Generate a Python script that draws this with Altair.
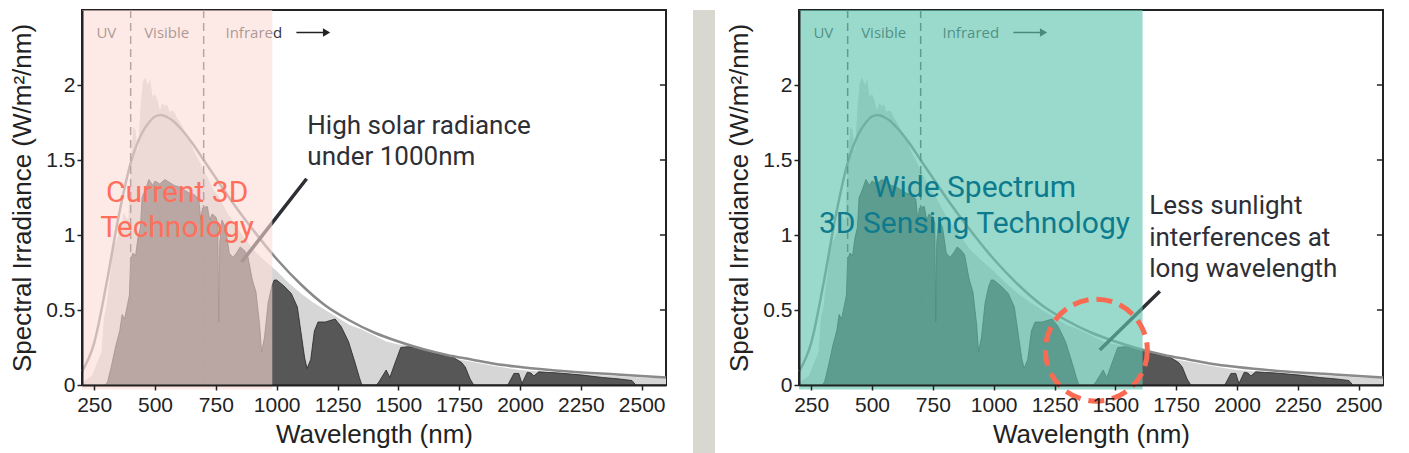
import altair as alt
import pandas as pd

# ---------------- data ----------------
# Blackbody (5250 C) curve
bb_nm = [200, 250, 300, 350, 400, 450, 475, 500, 525, 550, 575, 600, 650, 700, 750, 800, 900, 1000,
         1100, 1200, 1300, 1400, 1500, 1600, 1700, 1800, 1900, 2000, 2200, 2400, 2600]
bb_val = [0.09, 0.28, 0.67, 1.12, 1.48, 1.69, 1.75, 1.79, 1.80, 1.785, 1.76, 1.72, 1.62, 1.50, 1.38, 1.26, 1.04, 0.84,
          0.67, 0.53, 0.43, 0.35, 0.29, 0.24, 0.20, 0.17, 0.14, 0.12, 0.09, 0.07, 0.05]

# Sunlight at top of the atmosphere (light grey)
toa_nm = [200, 220, 240, 260, 280, 290, 300, 310, 320, 330, 340, 350, 360, 370, 380, 390,
          400, 410, 420, 430, 440, 450, 460, 470, 480, 490, 500, 510, 520, 530, 540, 550,
          560, 570, 580, 590, 600, 620, 640, 660, 680, 700, 720, 740, 760, 780, 800, 850,
          900, 950, 1000, 1050, 1100, 1150, 1200, 1250, 1300, 1350, 1400, 1450, 1500, 1550,
          1600, 1650, 1700, 1750, 1800, 1900, 2000, 2100, 2200, 2300, 2400, 2500, 2600]
toa_val = [0.01, 0.04, 0.06, 0.14, 0.22, 0.45, 0.52, 0.66, 0.78, 0.98, 0.95, 1.00, 1.02, 1.15, 1.12, 1.10,
           1.45, 1.72, 1.70, 1.55, 1.85, 2.02, 2.05, 2.00, 2.04, 1.92, 1.94, 1.90, 1.83, 1.88, 1.86, 1.87,
           1.82, 1.83, 1.82, 1.78, 1.76, 1.70, 1.65, 1.56, 1.50, 1.43, 1.37, 1.30, 1.26, 1.20, 1.14, 1.02,
           0.91, 0.83, 0.76, 0.68, 0.61, 0.55, 0.50, 0.45, 0.40, 0.37, 0.33, 0.29, 0.27, 0.262,
           0.23, 0.21, 0.19, 0.17, 0.155, 0.125, 0.10, 0.088, 0.078, 0.068, 0.06, 0.05, 0.045]

# Radiation at sea level (dark grey)
sea_nm = [200, 295, 305, 320, 340, 355, 365, 375, 385, 395, 400, 410, 420, 430, 440, 447,
          460, 475, 490, 500, 520, 540, 560, 580, 600, 620, 640, 660, 680, 688, 695, 715,
          725, 735, 750, 758, 762, 766, 775, 790, 805, 820, 835, 850, 865, 880, 900, 915,
          930, 938, 950, 965, 980, 990, 1000, 1030, 1060, 1085, 1100, 1115, 1125, 1140, 1155,
          1170, 1200, 1240, 1265, 1295, 1320, 1340, 1350, 1410, 1420, 1450, 1465, 1485, 1510,
          1540, 1580, 1650, 1720, 1760, 1775, 1795, 1810, 1950, 1975, 1995, 2008, 2030, 2045,
          2057, 2077, 2160, 2256, 2340, 2410, 2460, 2476, 2600]
sea_val = [0, 0, 0.02, 0.12, 0.27, 0.36, 0.47, 0.44, 0.52, 0.60, 0.84, 0.88, 0.86, 0.98, 1.05, 1.25,
           1.30, 1.37, 1.33, 1.36, 1.34, 1.37, 1.35, 1.33, 1.32, 1.30, 1.28, 1.27, 1.24, 1.10, 1.18, 1.19,
           1.10, 1.14, 1.12, 1.08, 0.42, 0.95, 1.10, 1.05, 0.88, 0.85, 0.88, 0.92, 0.90, 0.87, 0.70, 0.62,
           0.40, 0.22, 0.32, 0.55, 0.66, 0.70, 0.70, 0.66, 0.61, 0.52, 0.35, 0.18, 0.11, 0.17, 0.36,
           0.42, 0.42, 0.44, 0.39, 0.29, 0.16, 0.05, 0, 0, 0.02, 0.10, 0.05, 0.14, 0.25,
           0.255, 0.25, 0.21, 0.19, 0.15, 0.12, 0.04, 0, 0, 0.077, 0.077, 0.01, 0.085, 0.08,
           0.06, 0.088, 0.08, 0.066, 0.05, 0.04, 0.03, 0, 0]

x_ticks = [250, 500, 750, 1000, 1250, 1500, 1750, 2000, 2250, 2500]
y_ticks = [0, 0.5, 1, 1.5, 2]
band_edges = [400, 700]
band_labels = ["UV", "Visible", "Infrared"]
band_label_nm = [300, 548, 906]
band_label_val = 2.35
arrow_nm = [1081, 1205]

# left panel annotations
left_overlay_end = 982
left_title = ["Current 3D", "Technology"]
left_title_nm = [591, 591]
left_title_val = [1.22, 0.987]
left_note = ["High solar radiance", "under 1000nm"]
left_note_nm = [1126, 1126]
left_note_val = [1.674, 1.466]
left_leader_nm = [1123, 856]
left_leader_val = [1.375, 0.82]

# right panel annotations
right_overlay_end = 1612
right_title = ["Wide Spectrum", "3D Sensing Technology"]
right_title_nm = [921, 921]
right_title_val = [1.253, 1.015]
right_note = ["Less sunlight", "interferences at", "long wavelength"]
right_note_nm = [1639, 1639, 1639]
right_note_val = [1.142, 0.93, 0.72]
right_leader_nm = [1683, 1436]
right_leader_val = [0.625, 0.233]
circle_nm = [1422]
circle_val = [0.232]

# ---------------- chart ----------------
W, H = 584, 375
xscale = alt.Scale(domain=[200, 2600], nice=False, zero=False)
yscale = alt.Scale(domain=[0, 2.5], nice=False)
xaxis = alt.Axis(values=x_ticks, format="d", title="Wavelength (nm)", labelFontSize=21,
                 titleFontSize=26, tickSize=5, labelPadding=4, titlePadding=6, zindex=1,
                 grid=False, labelOverlap=False, labelFlush=False, titleFontWeight="normal")
yaxis = alt.Axis(values=y_ticks, format="~g", title="Spectral Irradiance (W/m²/nm)",
                 labelFontSize=21, titleFontSize=26, tickSize=5, labelPadding=2,
                 titlePadding=10, zindex=1, grid=False, titleFontWeight="normal")


def X(f="nm"):
    return alt.X(f, type="quantitative", scale=xscale, axis=xaxis)


def Y(f="val"):
    return alt.Y(f, type="quantitative", scale=yscale, axis=yaxis)


def panel(ov_end, ov_color, ov_opacity, title, t_nm, t_val, t_color,
          note, n_nm, n_val, lead_nm, lead_val, circle=False):
    toa = pd.DataFrame({"nm": toa_nm, "val": toa_val})
    sea = pd.DataFrame({"nm": sea_nm, "val": sea_val})
    bb = pd.DataFrame({"nm": bb_nm, "val": bb_val})
    layers = [
        alt.Chart(toa).mark_area(color="#d6d6d6").encode(x=X(), y=Y()),
        alt.Chart(sea).mark_area(color="#575757", stroke="#262626", strokeWidth=0.8).encode(x=X(), y=Y()),
        alt.Chart(bb).mark_line(color="#8a8a8a", strokeWidth=2.5, interpolate="monotone").encode(x=X(), y=Y()),
        alt.Chart(pd.DataFrame({"nm": band_edges})).mark_rule(
            color="#555", strokeWidth=1.5, strokeDash=[8, 5]).encode(x=X()),
        alt.Chart(pd.DataFrame({"nm": band_label_nm, "val": [band_label_val] * 3, "t": band_labels})).mark_text(
            font="Open Sans", fontSize=15, color="#333", align="center", baseline="middle").encode(
            x=X(), y=Y(), text="t:N"),
        alt.Chart(pd.DataFrame({"nm": [arrow_nm[0]], "nm2": [arrow_nm[1]], "val": [band_label_val]})).mark_rule(
            color="#222", strokeWidth=1.5).encode(x=X(), x2="nm2", y=Y()),
        alt.Chart(pd.DataFrame({"nm": [arrow_nm[1]], "val": [band_label_val]})).mark_point(
            shape="triangle-right", filled=True, color="#222", size=70, opacity=1).encode(x=X(), y=Y()),
        alt.Chart(pd.DataFrame({"nm": lead_nm, "val": lead_val})).mark_line(
            color="#2e2e35", strokeWidth=3.5).encode(x=X(), y=Y()),
        alt.Chart(pd.DataFrame({"nm": [200], "nm2": [ov_end], "val": [-0.03], "val2": [2.5]})).mark_rect(
            color=ov_color, opacity=ov_opacity).encode(x=X(), x2="nm2", y=Y(), y2="val2"),
        alt.Chart(pd.DataFrame({"nm": t_nm, "val": t_val, "t": title})).mark_text(
            font="Roboto", fontSize=30, color=t_color, align="center", baseline="alphabetic").encode(
            x=X(), y=Y(), text="t:N"),
        alt.Chart(pd.DataFrame({"nm": n_nm, "val": n_val, "t": note})).mark_text(
            font="Roboto", fontSize=26, color="#2e2e35", align="left", baseline="alphabetic").encode(
            x=X(), y=Y(), text="t:N"),
        alt.Chart(pd.DataFrame({"nm": [2575] * 4, "nm2": [2600] * 4, "val": y_ticks[1:]})).mark_rule(
            color="#222", strokeWidth=1.5).encode(x=X(), x2="nm2", y=Y()),
    ]
    if circle:
        layers.append(
            alt.Chart(pd.DataFrame({"nm": circle_nm, "val": circle_val})).mark_point(
                shape="circle", size=10400, filled=False, stroke="#f96a52", strokeWidth=5,
                strokeDash=[16, 8], opacity=1).encode(x=X(), y=Y()))
    return alt.layer(*layers).properties(width=W, height=H)


left = panel(left_overlay_end, "#fcdcd6", 0.6, left_title, left_title_nm, left_title_val, "#ff6f5b",
             left_note, left_note_nm, left_note_val, left_leader_nm, left_leader_val)
right = panel(right_overlay_end, "#61c5b1", 0.64, right_title, right_title_nm, right_title_val, "#0d7b8e",
              right_note, right_note_nm, right_note_val, right_leader_nm, right_leader_val, circle=True)

spacer = alt.Chart(pd.DataFrame({"a": [0]})).mark_rect(color="#d8d8d1").encode(
    x=alt.value(20), x2=alt.value(42), y=alt.value(0), y2=alt.value(445)
).properties(width=51, height=445, view=alt.ViewBackground(stroke="transparent"))

chart = alt.hconcat(left, spacer, right, spacing=0).properties(
    padding={"left": 0, "top": 0, "right": 0, "bottom": 0}
).configure_view(stroke="#222", strokeWidth=2).configure_axis(
    domainColor="#222", tickColor="#222", labelColor="#222", titleColor="#222",
    labelFont="Liberation Sans", titleFont="Liberation Sans", tickWidth=1.5, domainWidth=2
)

chart.save("out.html", embed_options={"renderer": "svg", "actions": False})
